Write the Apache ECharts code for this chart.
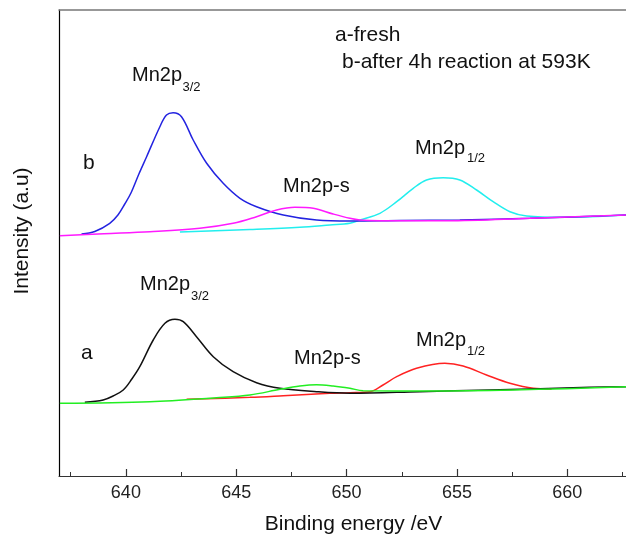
<!DOCTYPE html>
<html>
<head>
<meta charset="utf-8">
<script src="https://cdn.jsdelivr.net/npm/echarts@6/dist/echarts.min.js"></script>
<style>
html,body{margin:0;padding:0;background:#fff;}
#chart{width:626px;height:543px;}
</style>
</head>
<body>
<div id="chart"></div>
<script>
// ---- data (binding energy in eV, intensity in arbitrary units) ----
const majorTicks = [640, 645, 650, 655, 660];
const minorTicks = [637.5, 642.5, 647.5, 652.5, 657.5, 662.5];

// spectrum b (after reaction)
const bMn32X = [637.99, 638.59, 639.27, 639.64, 639.95, 640.23, 640.59, 640.94, 641.54, 641.84, 642.14, 642.52, 643.05, 643.66, 644.41, 645.17, 645.92, 647.13, 648.64, 650.15, 652.42, 655.13, 658.31, 661.48, 662.66];
const bMn32Y = [242, 244.5, 252.7, 261, 272, 283, 302, 319.3, 349.3, 361, 363.3, 359.3, 336, 312.7, 292.7, 277.7, 269.3, 261, 256, 255, 255.5, 256, 257.7, 260, 261];
const bMnSX = [637.01, 639.0, 641.09, 643.35, 644.86, 645.92, 646.83, 647.66, 648.49, 649.39, 650.15, 650.6, 651.5, 654.53, 658.31, 662.66];
const bMnSY = [240.3, 242.3, 244.3, 247.7, 252.7, 259.3, 266, 268.7, 267.7, 262, 257.7, 256, 255.3, 255.3, 257.7, 261];
const bMn12X = [642.45, 645.62, 647.88, 649.24, 650.15, 650.6, 651.51, 652.27, 653.02, 653.62, 654.38, 655.13, 655.89, 656.64, 657.4, 658.16, 659.8, 662.66];
const bMn12Y = [244, 246.5, 248.7, 251, 252.7, 256, 262.7, 274.3, 287.7, 296, 298.3, 296, 286, 274.3, 264.3, 260, 258.7, 261];

// spectrum a (fresh)
const aMn32X = [638.14, 638.97, 639.42, 639.88, 640.27, 640.63, 641.24, 641.77, 642.22, 642.6, 643.2, 643.96, 644.86, 645.92, 646.98, 648.64, 650.15, 653.32, 656.49, 661.02, 662.66];
const aMn32Y = [73.7, 76, 80, 86, 97, 109.3, 136, 152.7, 156.7, 154.3, 139.3, 119.3, 104.3, 93.3, 87.7, 84.3, 82.7, 84.3, 86, 88.7, 89.3];
const aMnSX = [637.01, 641.09, 644.11, 645.62, 646.98, 647.88, 648.64, 649.39, 650.15, 650.75, 653.77, 662.66];
const aMnSY = [72.7, 74.3, 78.3, 81, 86.7, 90, 91.3, 90, 87.7, 85.3, 85, 89.3];
const aMn12X = [642.75, 645.62, 647.13, 649.24, 650.15, 651.06, 651.65, 652.27, 653.17, 654.45, 655.28, 656.34, 657.4, 658.46, 659.29];
const aMn12Y = [76.7, 78.7, 80.3, 82.7, 83.3, 84.3, 91, 99.3, 107.7, 112.7, 110, 101, 92.7, 87.7, 87];

const pair = (xs, ys) => xs.map((x, i) => [x, ys[i]]);

const FONT = "'Liberation Sans', Arial, sans-serif";
const chart = echarts.init(document.getElementById('chart'));

function line(name, xs, ys, color) {
  return {
    name, type: 'line', xAxisIndex: 0, yAxisIndex: 0,
    data: pair(xs, ys), smooth: 0.35, symbol: 'none',
    lineStyle: { color, width: 1.5 }, silent: true
  };
}

function txt(text, x, y, size, rot) {
  return {
    type: 'text', x, y, rotation: rot || 0,
    style: {
      text, font: size + 'px ' + FONT, fill: '#111',
      textAlign: rot ? 'center' : 'left', align: rot ? 'center' : 'left',
      textVerticalAlign: 'middle', verticalAlign: 'middle'
    }
  };
}

const XMIN = 636.97, XMAX = 662.66;

chart.setOption({
  animation: false,
  backgroundColor: '#fff',
  grid: { left: 59, right: 0, top: 10, bottom: 67, show: false },
  xAxis: [
    {
      type: 'value', min: XMIN, max: XMAX, position: 'bottom',
      axisLine: { show: true, onZero: false, lineStyle: { color: '#333', width: 1.2 } },
      axisTick: { show: true, inside: true, length: 7, customValues: majorTicks, lineStyle: { color: '#333', width: 1.2 } },
      axisLabel: { show: true, customValues: majorTicks, fontSize: 18, color: '#222', margin: 8, fontFamily: FONT },
      splitLine: { show: false }
    },
    {
      type: 'value', min: XMIN, max: XMAX, position: 'bottom',
      axisLine: { show: false, onZero: false },
      axisTick: { show: true, inside: true, length: 4, customValues: minorTicks, lineStyle: { color: '#333', width: 1 } },
      axisLabel: { show: false },
      splitLine: { show: false }
    },
    {
      type: 'value', min: XMIN, max: XMAX, position: 'top',
      axisLine: { show: true, onZero: false, lineStyle: { color: '#777', width: 1.5 } },
      axisTick: { show: false }, axisLabel: { show: false }, splitLine: { show: false }
    }
  ],
  yAxis: [{
    type: 'value', min: 0, max: 466,
    axisLine: { show: true, onZero: false, lineStyle: { color: '#000', width: 1.2 } },
    axisTick: { show: false }, axisLabel: { show: false }, splitLine: { show: false }
  }],
  series: [
    line('b Mn2p1/2', bMn12X, bMn12Y, '#22eeee'),
    line('b Mn2p3/2', bMn32X, bMn32Y, '#2323e0'),
    line('b Mn2p-s', bMnSX, bMnSY, '#ff1aff'),
    line('a Mn2p1/2', aMn12X, aMn12Y, '#ff2222'),
    line('a Mn2p3/2', aMn32X, aMn32Y, '#111111'),
    line('a Mn2p-s', aMnSX, aMnSY, '#22ee22')
  ],
  graphic: [
    txt('a-fresh', 335, 35, 21),
    txt('b-after 4h reaction at 593K', 342, 62, 21),
    txt('Mn2p', 132, 75, 20), txt('3/2', 182.5, 87, 13),
    txt('b', 83, 163, 21),
    txt('Mn2p-s', 283, 186, 20),
    txt('Mn2p', 415, 148, 20), txt('1/2', 467, 158, 13),
    txt('Mn2p', 140, 284, 20), txt('3/2', 191, 296, 13),
    txt('a', 81, 353, 21),
    txt('Mn2p-s', 294, 358, 20),
    txt('Mn2p', 416, 340, 20), txt('1/2', 467, 351, 13),
    txt('Intensity (a.u)', 22, 231, 21, Math.PI / 2),
    { type: 'text', x: 353.5, y: 524, style: { text: 'Binding energy /eV', font: '21px ' + FONT, fill: '#111', textAlign: 'center', align: 'center', textVerticalAlign: 'middle', verticalAlign: 'middle' } }
  ]
});
</script>
</body>
</html>
